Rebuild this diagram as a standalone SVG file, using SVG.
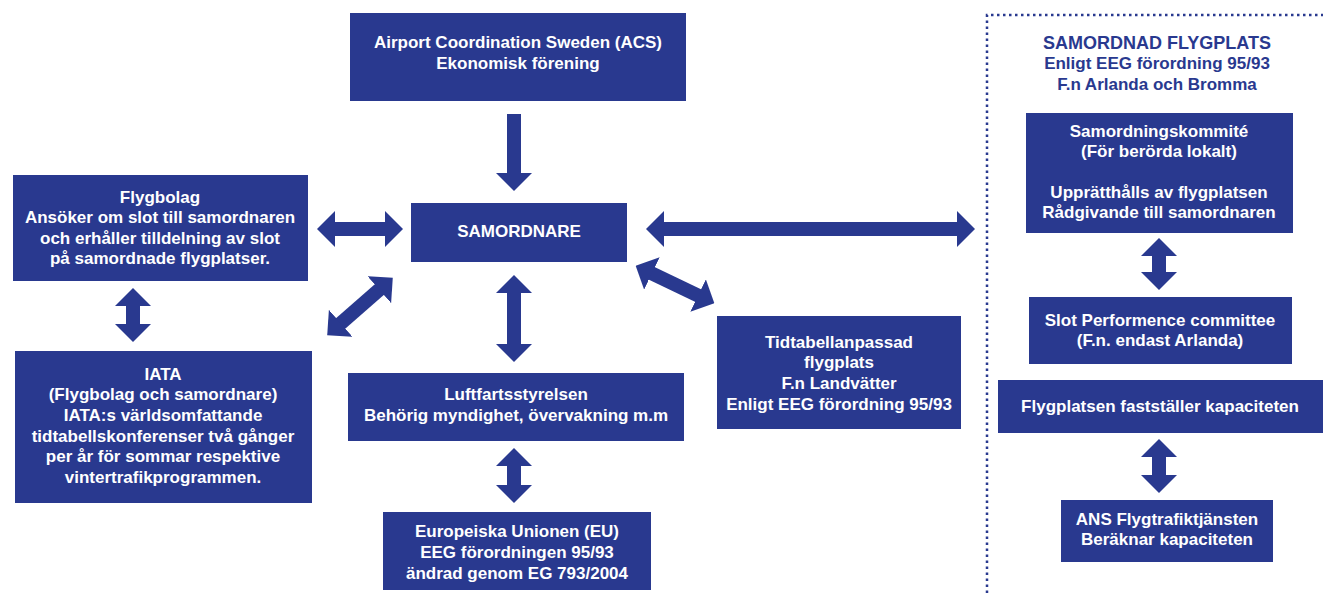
<svg xmlns="http://www.w3.org/2000/svg" width="1323" height="593" viewBox="0 0 1323 593">
  <style>
    .box { fill: #29398f; }
    .t { font-family: "Liberation Sans", Arial, sans-serif; font-weight: bold; font-size: 17px; fill: #ffffff; text-anchor: middle; }
    .h { font-family: "Liberation Sans", Arial, sans-serif; font-weight: bold; font-size: 17px; fill: #29398f; text-anchor: middle; }
    .h1 { font-size: 18px; }
    .arr { stroke: #29398f; stroke-width: 14; fill: none; }
  </style>
  <defs>
    <marker id="head" viewBox="0 0 18 36" markerWidth="18" markerHeight="36" refX="1" refY="18" markerUnits="userSpaceOnUse" orient="auto-start-reverse">
      <path d="M0,0 L18,18 L0,36 Z" fill="#29398f"/>
    </marker>
  </defs>

  <rect width="1323" height="593" fill="#ffffff"/>

  <!-- dotted frame round the coordinated airport column -->
  <path d="M987,593 V15 H1323" fill="none" stroke="#29398f" stroke-width="2.5" stroke-dasharray="2.5 3.5"/>

  <g id="acs">
    <rect class="box" x="350" y="13" width="336" height="88"/>
    <text class="t" x="518" y="48">Airport Coordination Sweden (ACS)</text>
    <text class="t" x="518" y="69">Ekonomisk förening</text>
  </g>

  <g id="flygbolag">
    <rect class="box" x="13" y="175" width="295" height="106"/>
    <text class="t" x="160" y="203">Flygbolag</text>
    <text class="t" x="160" y="223">Ansöker om slot till samordnaren</text>
    <text class="t" x="160" y="244">och erhåller tilldelning av slot</text>
    <text class="t" x="160" y="264">på samordnade flygplatser.</text>
  </g>

  <g id="samordnare">
    <rect class="box" x="411" y="203" width="216" height="59"/>
    <text class="t" x="519" y="237">SAMORDNARE</text>
  </g>

  <g id="iata">
    <rect class="box" x="15" y="351" width="297" height="152"/>
    <text class="t" x="163" y="380">IATA</text>
    <text class="t" x="163" y="400">(Flygbolag och samordnare)</text>
    <text class="t" x="163" y="421">IATA:s världsomfattande</text>
    <text class="t" x="163" y="442">tidtabellskonferenser två gånger</text>
    <text class="t" x="163" y="462">per år för sommar respektive</text>
    <text class="t" x="163" y="483">vintertrafikprogrammen.</text>
  </g>

  <g id="luftfartsstyrelsen">
    <rect class="box" x="348" y="373" width="336" height="68"/>
    <text class="t" x="516" y="400">Luftfartsstyrelsen</text>
    <text class="t" x="516" y="421">Behörig myndighet, övervakning m.m</text>
  </g>

  <g id="eu">
    <rect class="box" x="383" y="512" width="268" height="78"/>
    <text class="t" x="517" y="537">Europeiska Unionen (EU)</text>
    <text class="t" x="517" y="558">EEG förordningen 95/93</text>
    <text class="t" x="517" y="579">ändrad genom EG 793/2004</text>
  </g>

  <g id="tidtabell">
    <rect class="box" x="717" y="316" width="244" height="113"/>
    <text class="t" x="839" y="348">Tidtabellanpassad</text>
    <text class="t" x="839" y="368">flygplats</text>
    <text class="t" x="839" y="389">F.n Landvätter</text>
    <text class="t" x="839" y="410">Enligt EEG förordning 95/93</text>
  </g>

  <g id="samordnad-flygplats">
    <text class="h h1" x="1157" y="49">SAMORDNAD FLYGPLATS</text>
    <text class="h" x="1157" y="69">Enligt EEG förordning 95/93</text>
    <text class="h" x="1157" y="90">F.n Arlanda och Bromma</text>
  </g>

  <g id="samordningskommite">
    <rect class="box" x="1026" y="113" width="267" height="120"/>
    <text class="t" x="1159" y="137">Samordningskommité</text>
    <text class="t" x="1159" y="157">(För berörda lokalt)</text>
    <text class="t" x="1159" y="198">Upprätthålls av flygplatsen</text>
    <text class="t" x="1159" y="218">Rådgivande till samordnaren</text>
  </g>

  <g id="slot-performence">
    <rect class="box" x="1029" y="297" width="263" height="67"/>
    <text class="t" x="1160" y="326">Slot Performence committee</text>
    <text class="t" x="1160" y="346">(F.n. endast Arlanda)</text>
  </g>

  <g id="kapacitet">
    <rect class="box" x="998" y="380" width="325" height="53"/>
    <text class="t" x="1160" y="412">Flygplatsen fastställer kapaciteten</text>
  </g>

  <g id="ans">
    <rect class="box" x="1061" y="500" width="212" height="62"/>
    <text class="t" x="1167" y="525">ANS Flygtrafiktjänsten</text>
    <text class="t" x="1167" y="545">Beräknar kapaciteten</text>
  </g>

  <g id="connectors">
    <!-- ACS down to the coordinator -->
    <line class="arr" x1="514" y1="114" x2="514" y2="174" marker-end="url(#head)"/>
    <!-- two-way links -->
    <line class="arr" x1="334" y1="229" x2="386" y2="229" marker-start="url(#head)" marker-end="url(#head)"/>
    <line class="arr" x1="663" y1="229" x2="958" y2="229" marker-start="url(#head)" marker-end="url(#head)"/>
    <line class="arr" x1="514" y1="292" x2="514" y2="345" marker-start="url(#head)" marker-end="url(#head)"/>
    <line class="arr" x1="514" y1="465" x2="514" y2="486" marker-start="url(#head)" marker-end="url(#head)"/>
    <line class="arr" x1="133" y1="305" x2="133" y2="325" marker-start="url(#head)" marker-end="url(#head)"/>
    <line class="arr" x1="340" y1="324" x2="380" y2="289" marker-start="url(#head)" marker-end="url(#head)"/>
    <line class="arr" x1="651" y1="273" x2="699" y2="296" marker-start="url(#head)" marker-end="url(#head)"/>
    <line class="arr" x1="1159" y1="255" x2="1159" y2="273" marker-start="url(#head)" marker-end="url(#head)"/>
    <line class="arr" x1="1159" y1="456" x2="1159" y2="476" marker-start="url(#head)" marker-end="url(#head)"/>
  </g>
</svg>
